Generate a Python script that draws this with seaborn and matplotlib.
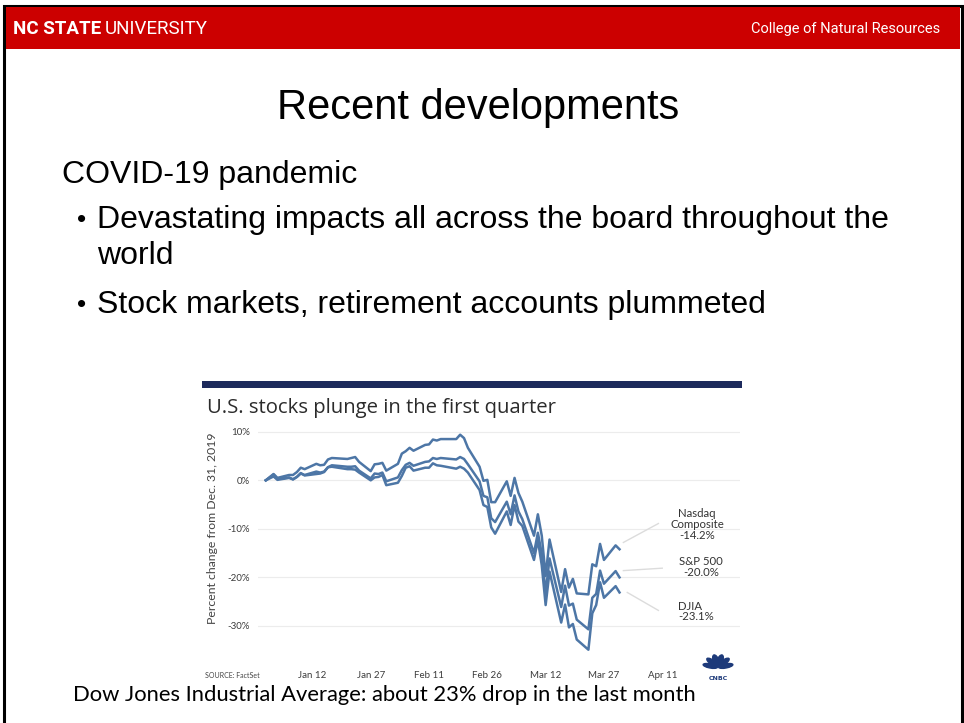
import pandas as pd
import numpy as np
import matplotlib
matplotlib.use("Agg")
import matplotlib.pyplot as plt
import matplotlib.dates as mdates
from matplotlib.patches import Rectangle, Ellipse
import seaborn as sns

# Trading days in Q1 2020 (Dec 31, 2019 = baseline)
dates = ["2019-12-31",
         "2020-01-02", "2020-01-03", "2020-01-06", "2020-01-07", "2020-01-08", "2020-01-09", "2020-01-10",
         "2020-01-13", "2020-01-14", "2020-01-15", "2020-01-16", "2020-01-17", "2020-01-21", "2020-01-22",
         "2020-01-23", "2020-01-24", "2020-01-27", "2020-01-28", "2020-01-29", "2020-01-30", "2020-01-31",
         "2020-02-03", "2020-02-04", "2020-02-05", "2020-02-06", "2020-02-07", "2020-02-10", "2020-02-11",
         "2020-02-12", "2020-02-13", "2020-02-14", "2020-02-18", "2020-02-19", "2020-02-20", "2020-02-21",
         "2020-02-24", "2020-02-25", "2020-02-26", "2020-02-27", "2020-02-28", "2020-03-02", "2020-03-03",
         "2020-03-04", "2020-03-05", "2020-03-06", "2020-03-09", "2020-03-10", "2020-03-11", "2020-03-12",
         "2020-03-13", "2020-03-16", "2020-03-17", "2020-03-18", "2020-03-19", "2020-03-20", "2020-03-23",
         "2020-03-24", "2020-03-25", "2020-03-26", "2020-03-27", "2020-03-30", "2020-03-31"]

# Percent change from Dec. 31, 2019
nasdaq = [0.0,
          1.3, 0.5, 1.1, 1.1, 1.7, 2.6, 2.3,
          3.4, 3.1, 3.2, 4.3, 4.6, 4.4, 4.6,
          4.8, 3.8, 1.9, 3.3, 3.4, 3.6, 2.0,
          3.4, 5.5, 6.0, 6.7, 6.1, 7.3, 7.4,
          8.4, 8.2, 8.5, 8.5, 9.4, 8.7, 6.7,
          2.8, -0.1, 0.1, -4.5, -4.5, -0.2, -3.2,
          0.5, -2.6, -4.4, -11.4, -7.0, -11.4, -19.7,
          -12.2, -23.0, -18.3, -22.1, -20.3, -23.3, -23.5,
          -17.3, -17.7, -13.1, -16.4, -13.4, -14.2]
sp500 = [0.0,
         0.8, 0.1, 0.5, 0.2, 0.7, 1.4, 1.1,
         1.8, 1.6, 1.8, 2.7, 3.1, 2.8, 2.8,
         2.9, 2.0, 0.4, 1.4, 1.3, 1.6, -0.2,
         0.6, 2.1, 3.2, 3.6, 3.0, 3.8, 3.9,
         4.6, 4.4, 4.6, 4.3, 4.8, 4.4, 3.3,
         -0.2, -3.2, -3.5, -7.8, -8.6, -4.4, -7.0,
         -3.1, -6.4, -8.0, -15.0, -10.8, -15.1, -23.2,
         -16.1, -26.1, -21.7, -25.8, -25.4, -28.7, -30.7,
         -24.2, -23.4, -18.6, -21.3, -18.7, -20.0]
djia = [0.0,
        1.2, 0.3, 0.6, 0.2, 0.7, 1.5, 1.0,
        1.3, 1.4, 1.7, 2.7, 2.8, 2.3, 2.3,
        2.2, 1.6, 0.0, 0.6, 0.7, 1.1, -1.0,
        -0.5, 0.9, 2.6, 2.9, 2.0, 2.6, 2.6,
        3.5, 3.1, 3.0, 2.4, 2.8, 2.4, 1.6,
        -2.0, -5.1, -5.5, -9.7, -11.0, -6.4, -9.2,
        -5.1, -8.5, -9.4, -16.4, -12.3, -17.5, -25.7,
        -18.8, -29.3, -25.6, -30.3, -29.6, -32.8, -34.9,
        -27.4, -25.7, -21.0, -24.2, -21.8, -23.1]

series_names = ["Nasdaq", "S&P 500", "DJIA"]
end_labels = ["Nasdaq\nComposite\n-14.2%", "S&P 500\n-20.0%", "DJIA\n-23.1%"]
y_ticks = [10, 0, -10, -20, -30]
x_ticks = ["2020-01-12", "2020-01-27", "2020-02-11", "2020-02-26", "2020-03-12", "2020-03-27", "2020-04-11"]

df = pd.DataFrame({
    "date": pd.to_datetime(dates * 3),
    "pct": nasdaq + sp500 + djia,
    "index": sum([[n] * len(dates) for n in series_names], []),
})

W, H = 964, 723
fig = plt.figure(figsize=(W / 100, H / 100), dpi=100)
fig.patch.set_facecolor("white")


def fx(px):
    return px / W


def fy(py):
    return 1 - py / H


# slide frame and red header (kept behind the chart axes)
fig.add_artist(Rectangle((fx(4), -0.01), fx(962) - fx(4), fy(6) + 0.01, transform=fig.transFigure,
                         facecolor="white", edgecolor="black", lw=2.2, zorder=-2))
fig.add_artist(Rectangle((fx(6), fy(49)), fx(960) - fx(6), fy(7) - fy(49), transform=fig.transFigure,
                         facecolor="#cc0000", edgecolor="none", zorder=-1))
hdr = ["Roboto", "DejaVu Sans"]
t1 = fig.text(fx(13), fy(29), "NC STATE", color="white", fontsize=13.5, fontweight="bold",
              family=hdr, va="center", ha="left")
fig.canvas.draw()
bb = t1.get_window_extent()
fig.text(fx(bb.x1 + 4), fy(29), "UNIVERSITY", color="white", fontsize=13.5,
         family=hdr, va="center", ha="left")
fig.text(fx(940), fy(29), "College of Natural Resources", color="white", fontsize=10.5,
         family=hdr, va="center", ha="right")

# slide text
arial = ["Liberation Sans", "DejaVu Sans"]
fig.text(fx(478), fy(108), "Recent developments", fontsize=30, family=arial, ha="center", va="center")
fig.text(fx(62), fy(175), "COVID-19 pandemic", fontsize=23, family=arial, ha="left", va="center")
for yy, txt, bullet in [(220, "Devastating impacts all across the board throughout the", True),
                        (256, "world", False),
                        (305, "Stock markets, retirement accounts plummeted", True)]:
    if bullet:
        fig.text(fx(77), fy(yy), "•", fontsize=19, family=arial, ha="left", va="center")
    fig.text(fx(97), fy(yy), txt, fontsize=23, family=arial, ha="left", va="center")

# embedded chart header
fig.add_artist(Rectangle((fx(202), fy(388)), fx(742) - fx(202), fy(381) - fy(388),
                         transform=fig.transFigure, facecolor="#1d2a5c", edgecolor="none"))
fig.text(fx(207), fy(408), "U.S. stocks plunge in the first quarter", fontsize=14.6,
         family=["Open Sans", "DejaVu Sans"], color="#2b2b2b", ha="left", va="center")

ax = fig.add_axes([fx(258), fy(657), fx(740) - fx(258), fy(425) - fy(657)])
ax.patch.set_alpha(0)
sns.lineplot(data=df, x="date", y="pct", hue="index", palette=["#4d76a6"] * 3,
             linewidth=1.8, legend=False, ax=ax)

ax.set_xlim(pd.Timestamp("2019-12-29"), pd.Timestamp("2020-05-01"))
ax.set_ylim(-36.4, 11.4)
ax.set_yticks(y_ticks)
ax.set_yticklabels([f"{t}%" for t in y_ticks])
ax.set_xticks(pd.to_datetime(x_ticks))
ax.xaxis.set_major_formatter(mdates.DateFormatter("%b %-d"))
ax.tick_params(length=0, labelsize=7, labelcolor="#3c3c3c")
ax.tick_params(axis="y", pad=6)
ax.tick_params(axis="x", pad=10)
for lab in ax.get_xticklabels() + ax.get_yticklabels():
    lab.set_family(["Lato", "DejaVu Sans"])
ax.grid(axis="y", color="#ececec", lw=0.8)
ax.set_axisbelow(True)
for s in ax.spines.values():
    s.set_visible(False)
ax.set_xlabel("")
ax.set_ylabel("")

fig.text(fx(212), fy(528), "Percent change from Dec. 31, 2019", rotation=90, fontsize=8.8,
         color="#444444", family=["Lato", "DejaVu Sans"], ha="center", va="center")

# end labels with light connectors
conn = [(("2020-04-01", -12.8), ("2020-04-10", -8.9)),
        (("2020-04-01", -18.6), ("2020-04-11", -18.1)),
        (("2020-04-02", -23.1), ("2020-04-10", -26.8))]
text_pos = [("2020-04-20", -9.1, "center"), ("2020-04-21", -17.9, "center"), ("2020-04-15", -27.0, "left")]
for (p0, p1), (tx, ty, ha), lab in zip(conn, text_pos, end_labels):
    ax.plot(pd.to_datetime([p0[0], p1[0]]), [p0[1], p1[1]], color="#dcdcdc", lw=1.0)
    ax.text(pd.Timestamp(tx), ty, lab, fontsize=8.2, color="#333333", ha=ha, va="center",
            linespacing=0.95, multialignment=ha, family=["Lato", "DejaVu Sans"])

fig.text(fx(205), fy(676), "SOURCE: FactSet", fontsize=5, color="#444444",
         family=["Lato", "DejaVu Sans"], ha="left", va="center")

# small peacock-style logo
lx, ly = 718, 668
for ang in np.linspace(165, 15, 6):
    a = np.deg2rad(ang)
    fig.add_artist(Ellipse((fx(lx + 8 * np.cos(a)), fy(ly - 8 * np.sin(a))),
                           fx(5.5), fy(0) - fy(11), angle=ang - 90,
                           transform=fig.transFigure, color="#1d3a7a"))
fig.text(fx(718), fy(679), "CNBC", fontsize=4.5, fontweight="bold", color="#1d3a7a",
         ha="center", va="center")

# caption
fig.text(fx(73), fy(695), "Dow Jones Industrial Average: about 23% drop in the last month",
         fontsize=15.8, family=["Lato", "DejaVu Sans"], ha="left", va="center")

fig.savefig("out.png", dpi=100)
